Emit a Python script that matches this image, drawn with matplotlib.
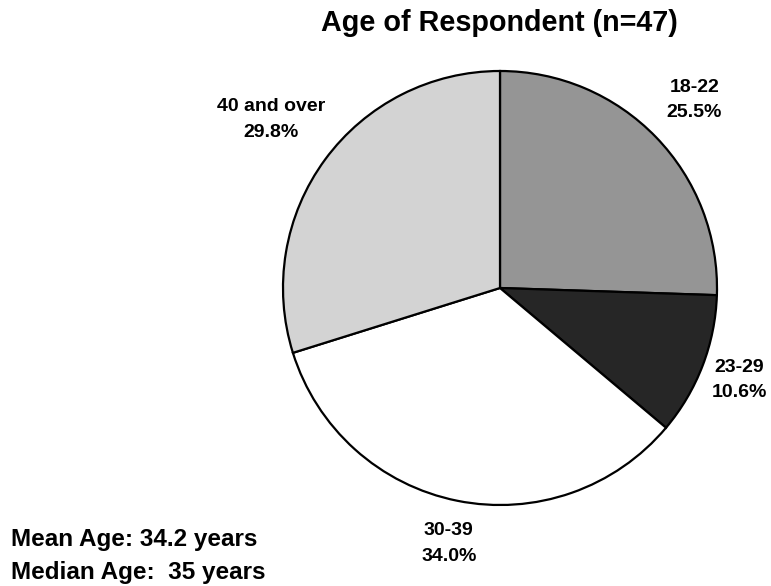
import numpy as np
import matplotlib.pyplot as plt

plt.rcParams['font.family'] = ['Liberation Sans', 'DejaVu Sans']

# data
age_groups = ['18-22', '23-29', '30-39', '40 and over']
shares = [25.5, 10.6, 34.0, 29.8]
colors = ['#959595', '#262626', '#ffffff', '#d3d3d3']
label_dist = [1.245, 1.18, 1.20, 1.31]

mean_age = 34.2
median_age = 35

fig = plt.figure(figsize=(7.71, 5.86), dpi=100)
W, H = 771, 586
cx, cy, R = 500, 288, 217
ax = fig.add_axes([(cx - R) / W, (H - cy - R) / H, 2 * R / W, 2 * R / H])

wedges, _ = ax.pie(shares, colors=colors, startangle=90, counterclock=False,
                   radius=1, wedgeprops=dict(edgecolor='black', linewidth=1.6))
ax.set_xlim(-1, 1)
ax.set_ylim(-1, 1)
ax.set_aspect('equal')
ax.axis('off')

# labels at the middle angle of each wedge
for w, name, pct, d in zip(wedges, age_groups, shares, label_dist):
    mid = np.deg2rad((w.theta1 + w.theta2) / 2)
    ax.text(d * np.cos(mid), d * np.sin(mid), f'{name}\n{pct:.1f}%',
            ha='center', va='center', fontsize=14, fontweight='bold',
            linespacing=1.65)

fig.text(499 / W, 1 - 31 / H, 'Age of Respondent (n=47)', ha='center',
         va='baseline', fontsize=20.7, fontweight='bold')

fig.text(11 / W, 1 - 546 / H, f'Mean Age: {mean_age} years', ha='left',
         va='baseline', fontsize=17.5, fontweight='bold')
fig.text(11 / W, 1 - 579.5 / H, f'Median Age:  {median_age} years', ha='left',
         va='baseline', fontsize=17.5, fontweight='bold')

fig.savefig('out.png', dpi=100, facecolor='white')
